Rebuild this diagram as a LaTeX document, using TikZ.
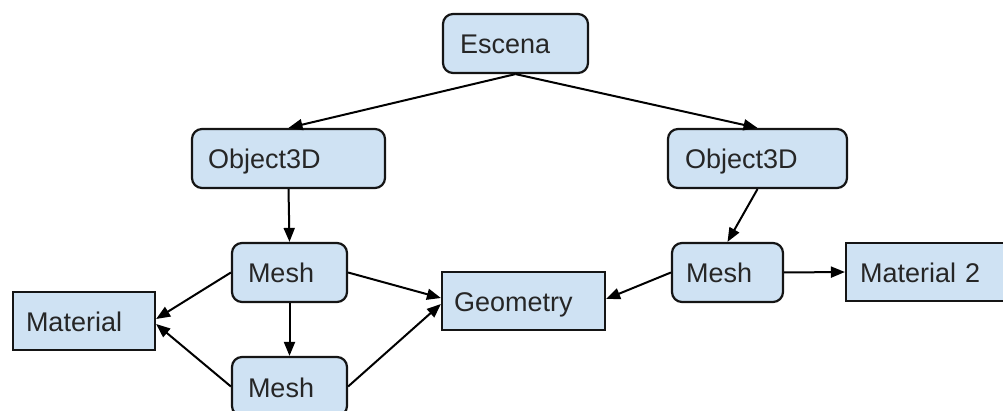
\documentclass[tikz,border=0pt]{standalone}
\usepackage{fontspec}
\setmainfont{Liberation Sans}
\usetikzlibrary{arrows.meta}
\definecolor{boxfill}{HTML}{CFE2F3}
\definecolor{boxline}{HTML}{151515}
\definecolor{txt}{HTML}{262626}
\begin{document}
\begin{tikzpicture}[x=1pt,y=-1pt,
  basebox/.style n args={3}{draw=boxline, line width=2.2pt, fill=boxfill,
    minimum width=#1pt, minimum height=#2pt, inner xsep=#3pt, inner ysep=0pt,
    text width=#1pt-2*#3pt, align=left, text=txt,
    text height=24pt, text depth=3pt,
    font=\fontsize{27}{32}\selectfont},
  rbox/.style n args={3}{basebox={#1}{#2}{#3}, rounded corners=10pt},
  sbox/.style n args={3}{basebox={#1}{#2}{#3}},
  conn/.style={draw=black, line width=2pt, -{Triangle[length=14pt,width=11pt]}}
]
\useasboundingbox (0,0) rectangle (1003,411);
\clip (0,0) rectangle (1003,411);
\node[rbox={145}{59}{17}] (esc) at (515.5,43.5) {Escena};
\node[rbox={193}{59}{16}] (objL) at (288.5,158.5) {Object3D};
\node[rbox={179}{59}{17}] (objR) at (757.5,158.5) {Object3D};
\node[rbox={115}{59}{16}] (meshA) at (289.5,272.5) {Mesh};
\node[rbox={115}{59}{16}] (meshB) at (289.5,386.5) {Mesh};
\node[sbox={142}{58}{13}] (mat) at (84,321) {Material};
\node[sbox={163}{58}{12}] (geo) at (523.5,301) {Geometry};
\node[rbox={111}{59}{14}] (meshR) at (727.5,272.5) {Mesh};
\node[sbox={164}{58}{14}] (mat2) at (928,272) {Material 2};

\draw[conn] (esc.south) -- (objL.north);
\draw[conn] (esc.south) -- (objR.north);
\draw[conn] (objL.south) -- (meshA.north);
\draw[conn] (objR.south) -- (meshR.north);
\draw[conn] (meshA.west) -- ([yshift=2pt]mat.east);
\draw[conn] (meshB.west) -- ([yshift=-3pt]mat.east);
\draw[conn] (meshA.south) -- (meshB.north);
\draw[conn] (meshA.east) -- ([yshift=3pt]geo.west);
\draw[conn] (meshB.east) -- ([yshift=-3pt]geo.west);
\draw[conn] (meshR.west) -- ([yshift=2pt]geo.east);
\draw[conn] (meshR.east) -- (mat2.west);
\end{tikzpicture}
\end{document}
